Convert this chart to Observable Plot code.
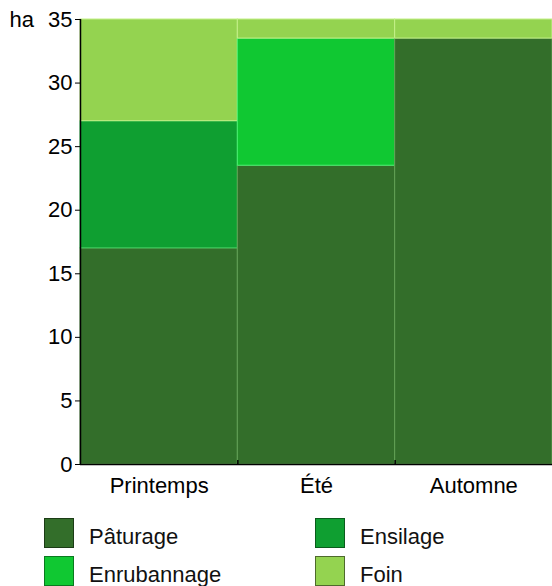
<!DOCTYPE html>
<html><head><meta charset="utf-8">
<script src="https://cdn.jsdelivr.net/npm/d3@7"></script>
<script src="https://cdn.jsdelivr.net/npm/@observablehq/plot@0.6"></script>
<style>
body{margin:0;background:#fff;font-family:"Liberation Sans",Arial,sans-serif;}
#legend{display:grid;grid-template-columns:271px 200px;row-gap:8px;padding-left:44px;margin-top:13px;}
.item{display:flex;align-items:center;height:30px;font-size:22px;color:#111;}
.item span{position:relative;top:4px;}
.sw{width:28px;height:28px;border:1px solid;margin-right:15px;box-sizing:content-box;}
</style>
</head><body>
<div id="chart"></div>
<div id="legend"></div>
<script>
const seasons = ["Printemps", "Été", "Automne"];
const types = ["Pâturage", "Ensilage", "Enrubannage", "Foin"];
const paturage = [17, 23.5, 33.5];
const ensilage = [10, 0, 0];
const enrubannage = [0, 10, 0];
const foin = [8, 1.5, 1.5];
const yTicks = [0, 5, 10, 15, 20, 25, 30, 35];

const fills = ["#336e2a", "#0f9f31", "#10c832", "#94d350"];
const strokes = ["#62a055", "#3fd060", "#48f070", "#c4f088"];
const borders = ["#1c3c16", "#0a5c1c", "#0a7a20", "#4e6a2c"];

const series = [paturage, ensilage, enrubannage, foin];
const rows = [];
seasons.forEach((s, i) => {
  let acc = 0;
  series.forEach((vals, k) => {
    const v = vals[i];
    if (v > 0) rows.push({i, i1: i + 1, y1: acc, y2: acc + v, type: types[k]});
    acc += v;
  });
});

const chart = Plot.plot({
  width: 552,
  height: 505,
  marginTop: 19,
  marginBottom: 41,
  marginLeft: 80,
  marginRight: 0,
  style: {fontFamily: "Liberation Sans, Arial, sans-serif", fontSize: "22px", color: "#000"},
  x: {domain: [0, seasons.length]},
  y: {domain: [0, 35]},
  color: {domain: types, range: fills},
  marks: [
    Plot.rect(rows, {x1: "i", x2: "i1", y1: "y1", y2: "y2", fill: "type",
      stroke: d => strokes[types.indexOf(d.type)], strokeWidth: 1}),
    Plot.ruleY([0], {stroke: "#000", strokeWidth: 1.5}),
    Plot.ruleX([0], {stroke: "#000", strokeWidth: 1.5}),
    Plot.ruleX([1, 2], {y1: 0, y2: 0.32, stroke: "#000", strokeWidth: 1.5}),
    Plot.axisY({ticks: yTicks, tickSize: 5, tickPadding: 3, label: null, fontSize: 22, fill: "#000"}),
    Plot.axisX({ticks: seasons.map((s, i) => i + 0.5), tickFormat: v => seasons[Math.floor(v)],
      tickSize: 0, tickPadding: 13, label: null, fontSize: 22, fill: "#000"}),
    Plot.text(["ha"], {frameAnchor: "top-left", dx: -71, dy: 0, textAnchor: "start",
      lineAnchor: "middle", fontSize: 22, fill: "#000"})
  ]
});
document.getElementById("chart").append(chart);

const legend = document.getElementById("legend");
types.forEach((t, k) => {
  const item = document.createElement("div");
  item.className = "item";
  const sw = document.createElement("div");
  sw.className = "sw";
  sw.style.background = fills[k];
  sw.style.borderColor = borders[k];
  const lab = document.createElement("span");
  lab.textContent = t;
  item.append(sw, lab);
  legend.append(item);
});
</script>
</body></html>
